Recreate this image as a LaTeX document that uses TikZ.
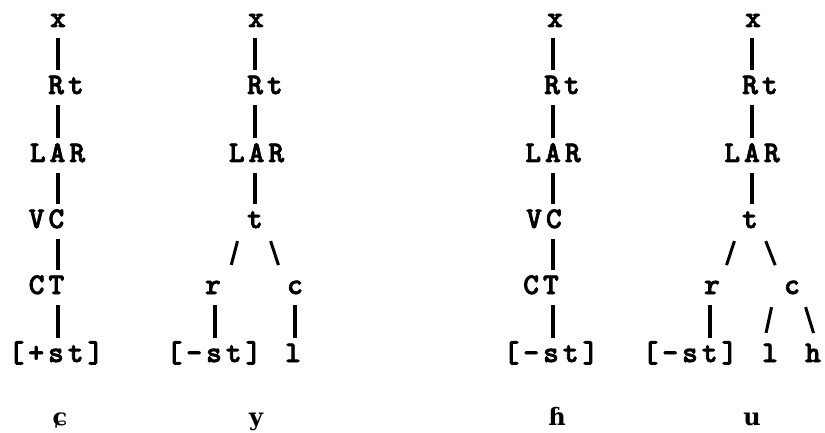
\documentclass[tikz,border=0pt]{standalone}
\usepackage{fontspec}
\newfontfamily\treefont[LetterSpace=13.5, FakeBold=2.5]{lmmonolt10-bold.otf}
\newfontfamily\ipafont{DejaVu Serif}
\usetikzlibrary{calc}

\tikzset{
  seg/.style={font=\treefont\fontsize{30}{30}\selectfont, anchor=base,
    inner xsep=0pt, inner ysep=11pt, text height=13pt, text depth=0pt},
  phone/.style={font=\ipafont\bfseries\fontsize{24}{24}\selectfont, anchor=base, inner sep=0pt},
  bar/.style={line width=3.2pt},
  slash/.style={line width=3pt, shorten <=2pt, shorten >=5pt}
}

\begin{document}
\begin{tikzpicture}[x=1pt, y=-1pt]
    \useasboundingbox (0,0) rectangle (825,433);
    \coordinate (col1) at (58,0);
    \coordinate (col2) at (255,0);
    \coordinate (colr2) at (215,0);
    \coordinate (colc2) at (295,0);
    \coordinate (col3) at (553,0);
    \coordinate (col4) at (752,0);
    \coordinate (colr4) at (710,0);

    % first tree
    \node[seg] (x1) at (58,27) {x};
    \node[seg] (rt1) at (66,94) {Rt};
    \node[seg] (lar1) at (57.5,162) {LAR};
    \node[seg] (vc1) at (46.5,228) {VC};
    \node[seg] (ct1) at (46.5,294) {CT};
    \node[seg] (st1) at (56,362) {[+st]};
    \node[phone] (ph1) at (60,425) {ɕ};

    % second tree
    \node[seg] (x2) at (256,27) {x};
    \node[seg] (rt2) at (265,94) {Rt};
    \node[seg] (lar2) at (256.5,162) {LAR};
    \node[seg] (t2) at (255,228) {t};
    \node[seg] (r2) at (213,294) {r};
    \node[seg] (c2) at (295,294) {c};
    \node[seg] (st2) at (214,362) {[-st]};
    \node[seg] (l2) at (293,362) {l};
    \node[phone] (ph2) at (256,425) {y};

    % third tree
    \node[seg] (x3) at (555,27) {x};
    \node[seg] (rt3) at (562,94) {Rt};
    \node[seg] (lar3) at (553,162) {LAR};
    \node[seg] (vc3) at (544,228) {VC};
    \node[seg] (ct3) at (541,294) {CT};
    \node[seg] (st3) at (551,362) {[-st]};
    \node[phone] (ph3) at (557,425) {ɦ};

    % fourth tree
    \node[seg] (x4) at (753,27) {x};
    \node[seg] (rt4) at (760,94) {Rt};
    \node[seg] (lar4) at (752,162) {LAR};
    \node[seg] (t4) at (750,228) {t};
    \node[seg] (r4) at (712,294) {r};
    \node[seg] (c4) at (792,294) {c};
    \node[seg] (st4) at (690,362) {[-st]};
    \node[seg] (l4) at (770,362) {l};
    \node[seg] (h4) at (813,362) {h};
    \node[phone] (ph4) at (752,425) {u};

    % vertical bars
    \foreach \a/\b/\c in {x1/rt1/col1, rt1/lar1/col1, lar1/vc1/col1, vc1/ct1/col1, ct1/st1/col1,
        x2/rt2/col2, rt2/lar2/col2, lar2/t2/col2, r2/st2/colr2, c2/l2/colc2,
        x3/rt3/col3, rt3/lar3/col3, lar3/vc3/col3, vc3/ct3/col3, ct3/st3/col3,
        x4/rt4/col4, rt4/lar4/col4, lar4/t4/col4, r4/st4/colr4}
        \draw[bar] (\a.south -| \c) -- (\b.north -| \c);

    % branches
    \draw[slash] ([xshift=-17pt]t2.south) -- ([xshift=17pt]r2.north);
    \draw[slash] ([xshift=15pt]t2.south) -- ([xshift=-15pt]c2.north);
    \draw[slash] ([xshift=-15pt]t4.south) -- ([xshift=13pt]r4.north);
    \draw[slash] ([xshift=15pt]t4.south) -- ([xshift=-15pt]c4.north);
    \draw[slash] ([xshift=-20pt]c4.south) -- ([xshift=-5pt]l4.north);
    \draw[slash] ([xshift=13pt]c4.south) -- ([xshift=2pt]h4.north);
\end{tikzpicture}
\end{document}
